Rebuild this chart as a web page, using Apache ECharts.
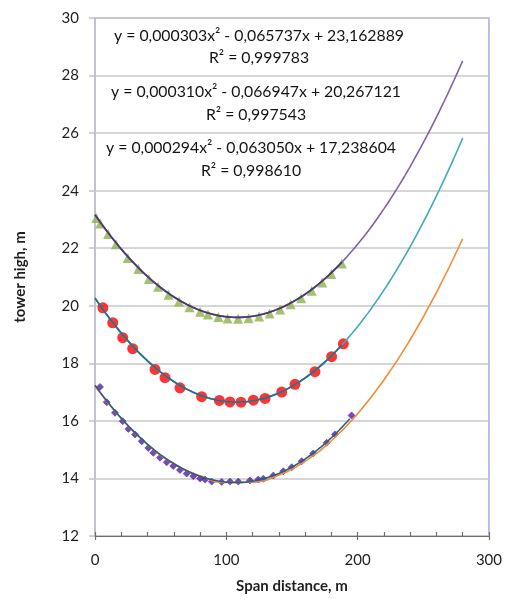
<!DOCTYPE html>
<html>
<head>
<meta charset="utf-8">
<script src="https://cdn.jsdelivr.net/npm/echarts@6/dist/echarts.min.js"></script>
<style>
  html, body { margin: 0; padding: 0; background: #fff; }
  #chart { width: 505px; height: 599px; }
</style>
</head>
<body>
<div id="chart"></div>
<script>
// Tower height vs span distance: three measured sets with quadratic trend lines

// Set A (green triangles)
const spanA = [1, 4, 10, 16, 25, 33, 41, 48, 56, 64, 72, 80, 86, 94, 101, 109, 117, 125, 133, 141, 149, 157, 165, 173, 180, 188];
const highA = [23.05, 22.86, 22.49, 22.14, 21.66, 21.28, 20.93, 20.66, 20.38, 20.15, 19.95, 19.79, 19.70, 19.61, 19.56, 19.55, 19.57, 19.63, 19.73, 19.87, 20.05, 20.26, 20.52, 20.81, 21.10, 21.47];

// Set B (red circles)
const spanB = [6, 13.5, 21.1, 28.7, 45.7, 53.3, 64.7, 81.2, 94.7, 102.8, 111.2, 120.6, 129.5, 142.2, 152.3, 167.5, 180.2, 189.1];
const highB = [19.93, 19.41, 18.89, 18.51, 17.79, 17.50, 17.15, 16.84, 16.71, 16.66, 16.65, 16.72, 16.78, 17.00, 17.27, 17.71, 18.23, 18.68];

// Set C (purple diamonds)
const spanC = [3.8, 8.9, 15.2, 21.1, 25.4, 30.5, 35.6, 40.6, 44.4, 49.5, 54.6, 59.6, 64.7, 69.8, 74.9, 80, 83.8, 88.9, 96.5, 102.8, 109.1, 118, 124.3, 128.2, 135.8, 143.4, 149.8, 157.4, 166.2, 176.4, 182.7, 195.4];
const highC = [17.18, 16.65, 16.28, 15.99, 15.72, 15.53, 15.29, 15.06, 14.89, 14.72, 14.56, 14.43, 14.29, 14.17, 14.08, 14.00, 13.96, 13.89, 13.88, 13.89, 13.89, 13.93, 13.96, 13.99, 14.10, 14.25, 14.39, 14.60, 14.87, 15.24, 15.53, 16.19];

// Polynomial trend coefficients [a, b, c] for y = a*x^2 + b*x + c, as printed
const trendA = [0.000303, -0.065737, 23.162889];
const trendB = [0.000310, -0.066947, 20.267121];
const trendC = [0.000294, -0.063050, 17.238604];
const r2A = '0,999783';
const r2B = '0,997543';
const r2C = '0,998610';

// Orange forecast curve for set C
const orangeSpan = [0, 20, 40, 60, 80, 100, 120, 140, 160, 180, 200, 220, 240, 260, 280];
const orangeHigh = [17.20, 16.08, 15.18, 14.52, 14.09, 13.86, 13.87, 14.12, 14.60, 15.31, 16.25, 17.42, 18.82, 20.46, 22.33];

const trendEnd = 280;

// Axis ticks
const xTicks = [0, 100, 200, 300];
const yTicks = [12, 14, 16, 18, 20, 22, 24, 26, 28, 30];

function zip(xs, ys) { return xs.map((x, i) => [x, ys[i]]); }
function trendPoints(coef) {
  const pts = [];
  for (let x = 0; x <= trendEnd; x += 2) {
    pts.push([x, coef[0] * x * x + coef[1] * x + coef[2]]);
  }
  return pts;
}
function fmt(v, d) { return v.toFixed(d).replace('.', ','); }
function eqText(coef) {
  return 'y = ' + fmt(coef[0], 6) + 'x\u00B2 - ' + fmt(-coef[1], 6) + 'x + ' + fmt(coef[2], 6);
}

const FONT = 'Lato';
const chart = echarts.init(document.getElementById('chart'), null, { renderer: 'canvas' });

// equation + R² labels: [equation, r2, eqY, r2Y, centerX]
const eqLines = [
  [eqText(trendA), 'R\u00B2 = ' + r2A, 36, 58, 259],
  [eqText(trendB), 'R\u00B2 = ' + r2B, 92, 115, 256],
  [eqText(trendC), 'R\u00B2 = ' + r2C, 148, 171, 251]
];
const graphics = [];
eqLines.forEach(e => {
  graphics.push({ type: 'text', x: e[4], y: e[2], z: 100,
    style: { text: e[0], fontFamily: FONT, fontSize: 15.8, fill: '#141414', align: 'center', verticalAlign: 'middle' } });
  graphics.push({ type: 'text', x: e[4], y: e[3], z: 100,
    style: { text: e[1], fontFamily: FONT, fontSize: 15.8, fill: '#141414', align: 'center', verticalAlign: 'middle' } });
});

const option = {
  animation: false,
  backgroundColor: '#ffffff',
  grid: { left: 95, right: 16, top: 18, bottom: 62.5, show: true, borderColor: '#a9a9e6', borderWidth: 1.5, backgroundColor: 'transparent' },
  xAxis: [
    {
      type: 'value', min: 0, max: 300, interval: 100,
      name: 'Span distance, m', nameLocation: 'middle', nameGap: 43,
      nameTextStyle: { fontFamily: FONT, fontWeight: 'bold', fontSize: 15, color: '#1f1f1f' },
      axisLine: { show: true, lineStyle: { color: '#6e6e6e', width: 1.2 } },
      axisTick: { show: true, inside: false, length: 4, lineStyle: { color: '#6e6e6e', width: 1.2 } },
      axisLabel: { fontFamily: FONT, fontSize: 15, color: '#1f1f1f', margin: 17, formatter: v => xTicks.includes(v) ? String(v) : '' },
      splitLine: { show: false }
    },
    {
      type: 'value', min: 0, max: 300, interval: 100, position: 'bottom',
      axisLine: { show: false },
      axisTick: { show: true, inside: true, length: 4, lineStyle: { color: '#6e6e6e', width: 1.2 } },
      minorTick: { show: true, splitNumber: 5, length: 4, lineStyle: { color: '#6e6e6e', width: 1.2 } },
      axisLabel: { show: false },
      splitLine: { show: false }
    }
  ],
  yAxis: {
    type: 'value', min: 12, max: 30, interval: 2,
    name: 'tower high, m', nameLocation: 'middle', nameGap: 67, nameRotate: 90,
    nameTextStyle: { fontFamily: FONT, fontWeight: 'bold', fontSize: 15, color: '#1f1f1f' },
    axisLine: { show: true, lineStyle: { color: '#c4c4c4', width: 1.5 } },
    axisTick: { show: true, inside: false, length: 6, lineStyle: { color: '#c4c4c4', width: 1.5 } },
    axisLabel: { fontFamily: FONT, fontSize: 15, color: '#1f1f1f', margin: 16, formatter: v => yTicks.includes(v) ? String(v) : '' },
    splitLine: { show: true, lineStyle: { color: '#c8c8c8', width: 1.5 } }
  },
  graphic: graphics,
  series: [
    // forecast / trend curves
    { type: 'line', data: trendPoints(trendA), showSymbol: false, lineStyle: { color: '#7f62ab', width: 1.6 }, z: 3 },
    { type: 'line', data: trendPoints(trendB), showSymbol: false, lineStyle: { color: '#3fa9c2', width: 1.6 }, z: 3 },
    { type: 'line', data: zip(orangeSpan, orangeHigh), smooth: true, showSymbol: false, lineStyle: { color: '#f08c3a', width: 1.6 }, z: 3 },
    // measured points
    { type: 'scatter', data: zip(spanA, highA), symbol: 'triangle', symbolSize: 10, itemStyle: { color: '#8db24a' }, z: 2 },
    { type: 'scatter', data: zip(spanB, highB), symbol: 'circle', symbolSize: 11, itemStyle: { color: '#ff0000' }, z: 2 },
    { type: 'scatter', data: zip(spanC, highC), symbol: 'diamond', symbolSize: 7, itemStyle: { color: '#5a1a9e', borderColor: '#4a3fc0', borderWidth: 0.8 }, z: 2 },
    // dark fit lines across measured range
    { type: 'line', data: trendPoints(trendA).filter(p => p[0] <= spanA[spanA.length - 1]), showSymbol: false, lineStyle: { color: '#4b3a72', width: 1.8 }, z: 4 },
    { type: 'line', data: trendPoints(trendB).filter(p => p[0] <= spanB[spanB.length - 1]), showSymbol: false, lineStyle: { color: '#2b6e83', width: 1.8 }, z: 4 },
    { type: 'line', data: trendPoints(trendC).filter(p => p[0] <= spanC[spanC.length - 1]), showSymbol: false, lineStyle: { color: '#2c5f7c', width: 1.6 }, z: 4 }
  ]
};
chart.setOption(option);
</script>
</body>
</html>
